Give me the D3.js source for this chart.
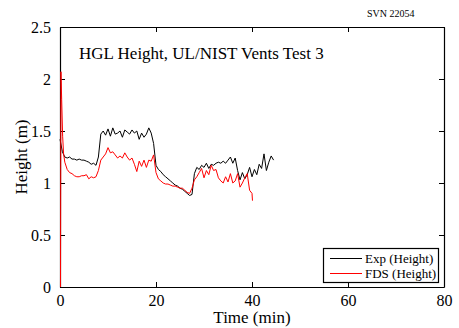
<!DOCTYPE html>
<html><head><meta charset="utf-8">
<script src="https://cdn.jsdelivr.net/npm/d3@7"></script>
<style>body{margin:0;background:#fff}svg{display:block}text{font-family:"Liberation Serif","Times New Roman",serif;fill:#000}</style>
</head><body>
<script>
const xTicks = [0, 20, 40, 60, 80];
const yTicks = [0, 0.5, 1, 1.5, 2, 2.5];
const yTickLabels = ["0", "0.5", "1", "1.5", "2", "2.5"];
const seriesNames = ["Exp (Height)", "FDS (Height)"];
const seriesColors = ["#000000", "#ff0000"];

const expTime = [0,0.5,1,1.5,2,2.5,3,3.5,4,4.5,5,5.5,6,6.5,7,7.5,8,8.5,9,9.5,10,10.5,11,11.5,12,12.5,13,13.5,14,14.5,15,15.5,16,16.5,17,17.5,18,18.5,19,19.5,20,20.5,21,21.5,22,22.5,23,23.5,24,24.5,25,25.5,26,26.5,27,27.5,28,28.5,29,29.5,30,30.5,31,31.5,32,32.5,33,33.5,34,34.5,35,35.5,36,36.5,37,37.5,38,38.5,39,39.5,40,40.5,41,41.5,42,42.5,43,43.5,44,44.5];
const expHeight = [1.42,1.30,1.25,1.24,1.25,1.23,1.23,1.22,1.23,1.22,1.22,1.21,1.20,1.18,1.19,1.17,1.25,1.47,1.50,1.46,1.52,1.45,1.53,1.47,1.48,1.50,1.44,1.51,1.49,1.47,1.51,1.48,1.50,1.42,1.48,1.44,1.47,1.53,1.48,1.38,1.17,1.13,1.11,1.08,1.06,1.04,1.02,1.00,0.98,0.97,0.95,0.94,0.92,0.90,0.88,0.89,1.09,1.15,1.13,1.17,1.15,1.19,1.14,1.18,1.17,1.19,1.20,1.19,1.21,1.19,1.22,1.25,1.19,1.24,1.12,1.03,1.10,1.04,1.08,1.15,1.06,1.13,1.08,1.18,1.14,1.28,1.12,1.20,1.26,1.22];

const fdsTime = [0.1,0.2,0.35,0.55,0.75,1,1.5,2,2.5,3,3.5,4,4.5,5,5.5,6,6.5,7,7.5,8,8.5,9,9.5,10,10.5,11,11.5,12,12.5,13,13.5,14,14.5,15,15.5,16,16.5,17,17.5,18,18.5,19,19.5,20,20.5,21,21.5,22,22.5,23,23.5,24,24.5,25,25.5,26,26.5,27,27.5,28,28.5,29,29.5,30,30.5,31,31.5,32,32.5,33,33.5,34,34.5,35,35.5,36,36.5,37,37.5,38,38.5,39,39.5,40,40.1];
const fdsHeight = [0,2.07,1.80,1.45,1.28,1.20,1.13,1.10,1.09,1.07,1.06,1.06,1.07,1.07,1.08,1.04,1.06,1.05,1.06,1.12,1.22,1.25,1.28,1.34,1.29,1.30,1.27,1.24,1.26,1.24,1.29,1.25,1.22,1.24,1.18,1.11,1.21,1.16,1.22,1.15,1.22,1.21,1.27,1.10,1.04,1.02,1.00,0.99,0.99,0.98,0.97,0.97,0.96,0.95,0.95,0.93,0.91,0.90,0.95,1.03,1.06,1.10,1.14,1.05,1.12,1.08,1.17,1.12,1.13,1.05,1.02,1.00,1.06,1.01,1.09,1.00,1.02,1.09,0.96,1.00,1.05,1.09,0.93,0.90,0.83];

const W = 459, H = 328;
const m = {left: 60, right: 15, top: 27, bottom: 41};
const svg = d3.select("body").append("svg").attr("width", W).attr("height", H);
const x = d3.scaleLinear().domain([0, 80]).range([m.left, W - m.right]);
const y = d3.scaleLinear().domain([0, 2.5]).range([H - m.bottom, m.top]);

// axes (inward ticks, box)
const tl = 5;
const gB = svg.append("g").attr("transform", `translate(0,${y(0)})`)
  .call(d3.axisBottom(x).tickValues(xTicks).tickSizeInner(-tl).tickSizeOuter(0).tickPadding(8));
const gT = svg.append("g").attr("transform", `translate(0,${y(2.5)})`)
  .call(d3.axisTop(x).tickValues(xTicks).tickSizeInner(-tl).tickSizeOuter(0).tickFormat(""));
const gL = svg.append("g").attr("transform", `translate(${x(0)},0)`)
  .call(d3.axisLeft(y).tickValues(yTicks).tickSizeInner(-tl).tickSizeOuter(0).tickPadding(9)
    .tickFormat((d,i) => yTickLabels[i]));
const gR = svg.append("g").attr("transform", `translate(${x(80)},0)`)
  .call(d3.axisRight(y).tickValues(yTicks).tickSizeInner(-tl).tickSizeOuter(0).tickFormat(""));
[gB, gT, gL, gR].forEach(g => {
  g.attr("font-family", "Liberation Serif");
  g.selectAll("path").attr("stroke", "#000").attr("stroke-width", 1.2);
  g.selectAll("line").attr("stroke", "#000");
  g.selectAll("text").attr("font-family", "Liberation Serif").attr("font-size", 16).attr("fill", "#000");
});
gL.selectAll("text").attr("dy", "0.35em");

// data lines (on top of axes)
const line = d3.line().x(d => x(d[0])).y(d => y(d[1]));
const series = [
  d3.zip(expTime, expHeight),
  d3.zip(fdsTime, fdsHeight)
];
series.forEach((s, i) => {
  svg.append("path").datum(s).attr("fill","none").attr("stroke", seriesColors[i])
    .attr("stroke-width", 1).attr("stroke-linejoin","round").attr("d", line);
});

// texts
svg.append("text").attr("x", 79).attr("y", 59).attr("font-size", 17).text("HGL Height, UL/NIST Vents Test 3");
svg.append("text").attr("x", 367).attr("y", 17).attr("font-size", 10).text("SVN 22054");
svg.append("text").attr("x", (x(0)+x(80))/2).attr("y", 323).attr("font-size", 17)
  .attr("text-anchor", "middle").text("Time (min)");
svg.append("text").attr("transform", `translate(27,${(y(0)+y(2.5))/2}) rotate(-90)`)
  .attr("font-size", 17).attr("text-anchor", "middle").text("Height (m)");

// legend
const lg = svg.append("g");
lg.append("rect").attr("x", 323.5).attr("y", 248.5).attr("width", 115).attr("height", 34)
  .attr("fill", "#fff").attr("stroke", "#000").attr("stroke-width", 1.2);
seriesNames.forEach((n, i) => {
  const yy = 258.5 + i * 15;
  lg.append("line").attr("x1", 330).attr("x2", 362).attr("y1", yy).attr("y2", yy)
    .attr("stroke", seriesColors[i]).attr("stroke-width", 1);
  lg.append("text").attr("x", 365).attr("y", yy + 4.5).attr("font-size", 13).text(n);
});
</script>
</body></html>
